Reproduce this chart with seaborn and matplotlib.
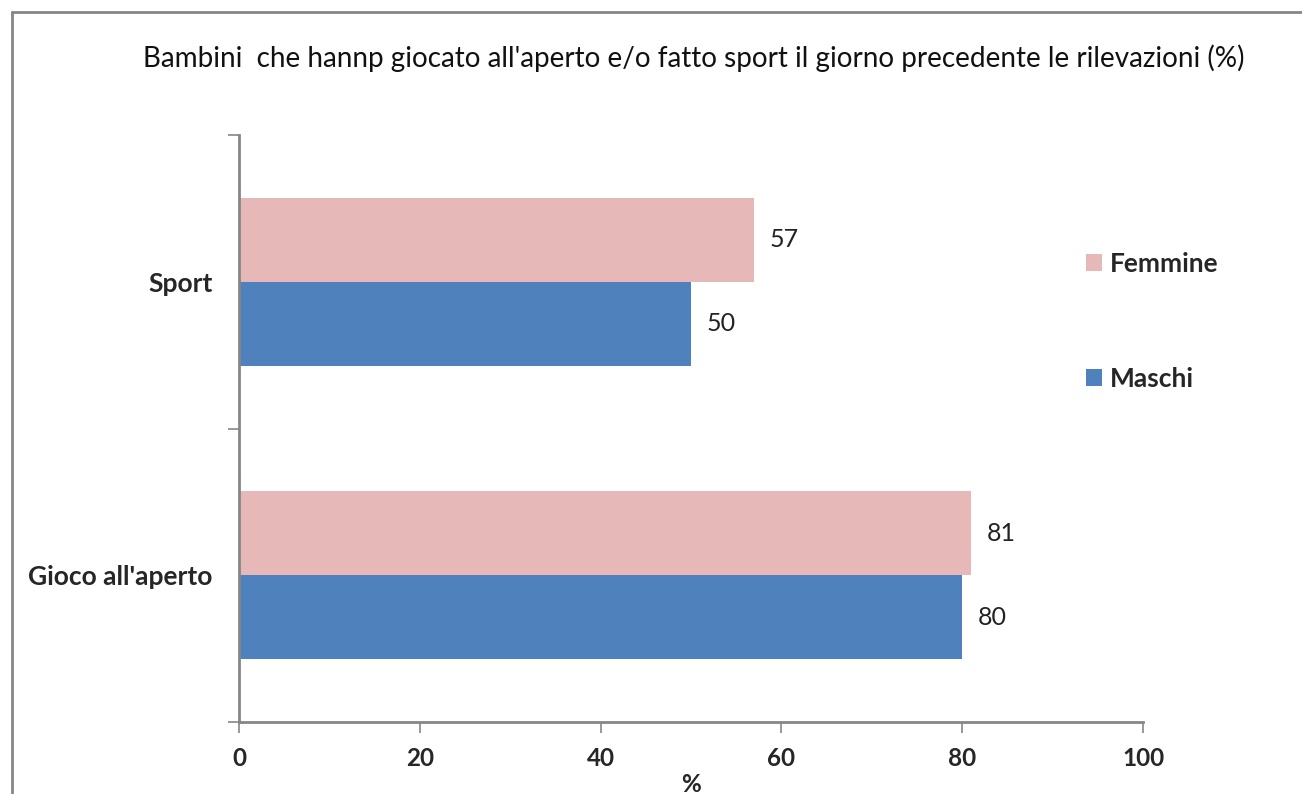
import matplotlib
matplotlib.use("Agg")
import matplotlib.pyplot as plt
from matplotlib.lines import Line2D
import seaborn as sns
import pandas as pd

categories = ["Sport", "Gioco all'aperto"]
series = ["Femmine", "Maschi"]
femmine = [57, 81]
maschi = [50, 80]
x_ticks = [0, 20, 40, 60, 80, 100]
title = "Bambini  che hannp giocato all'aperto e/o fatto sport il giorno precedente le rilevazioni (%)"

df = pd.DataFrame({
    "cat": categories * 2,
    "sex": [series[0]] * 2 + [series[1]] * 2,
    "val": femmine + maschi,
})

sns.set_theme(style="white")
plt.rcParams["font.family"] = ["Lato", "DejaVu Sans"]

fig = plt.figure(figsize=(13.02, 7.94), dpi=100)
ax = fig.add_axes([239/1302, 1-722/794, (1143-239)/1302, (722-135)/794])

palette = {"Femmine": "#E6B9B8", "Maschi": "#4F81BD"}
sns.barplot(data=df, x="val", y="cat", hue="sex", order=categories, hue_order=series,
            palette=palette, orient="h", width=0.571, saturation=1, ax=ax,
            edgecolor="none", linewidth=0, legend=True)

for cont in ax.containers:
    ax.bar_label(cont, padding=11, fontsize=18, color="#222222")

ax.set_xlim(0, 100)
ax.set_ylim(1.5, -0.5)
ax.set_xticks(x_ticks)
ax.set_xticklabels([str(t) for t in x_ticks], fontsize=17.5, fontweight="bold")
ax.set_yticks([0, 1])
ax.set_yticklabels(categories, fontsize=19, fontweight="bold")
ax.set_yticks([-0.5, 0.5, 1.5], minor=True)
ax.tick_params(axis="y", which="major", length=0, pad=19)
ax.tick_params(axis="y", which="minor", length=8, width=1.2, color="#868686", direction="out", left=True)
ax.tick_params(axis="x", which="major", length=8, width=1.2, color="#868686", direction="out", bottom=True, pad=10)
for s in ["top", "right"]:
    ax.spines[s].set_visible(False)
for s in ["left", "bottom"]:
    ax.spines[s].set_color("#868686")
    ax.spines[s].set_linewidth(2)
ax.set_xlabel("%", fontsize=17.5, fontweight="bold", labelpad=2)
ax.set_ylabel("")

leg = ax.legend(loc="upper left", bbox_to_anchor=(1086/1302, 1-252/794), bbox_transform=fig.transFigure,
                frameon=False, fontsize=19, handlelength=0.6, handleheight=0.6,
                handletextpad=0.3, labelspacing=3.45, borderpad=0, borderaxespad=0)
for t in leg.get_texts():
    t.set_fontweight("bold")

fig.text(694/1302, 1-58/794, title, ha="center", va="center", fontsize=20.1, color="#111111")

fig.add_artist(Line2D([12/1302, 12/1302], [0, 1-12/794], color="#868686", lw=2, transform=fig.transFigure))
fig.add_artist(Line2D([12/1302, 1], [1-12/794, 1-12/794], color="#868686", lw=2, transform=fig.transFigure))

fig.savefig("out.png", dpi=100, facecolor="white")
